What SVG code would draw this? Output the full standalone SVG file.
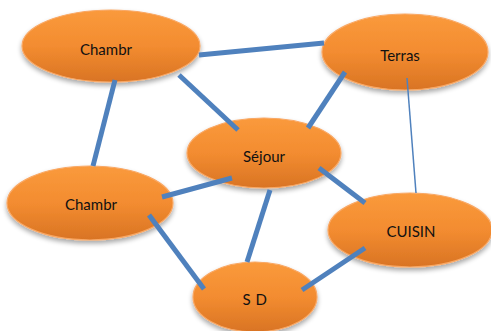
<svg xmlns="http://www.w3.org/2000/svg" width="491" height="331" viewBox="0 0 491 331">
  <defs>
    <linearGradient id="orangeFill" x1="0" y1="0" x2="0" y2="1">
      <stop offset="0" stop-color="#fa9a3c"/>
      <stop offset="0.5" stop-color="#f38c30"/>
      <stop offset="1" stop-color="#d97424"/>
    </linearGradient>
    <filter id="shadow" x="-20%" y="-20%" width="140%" height="160%">
      <feGaussianBlur in="SourceAlpha" stdDeviation="2.5"/>
      <feOffset dx="0" dy="3" result="blur"/>
      <feComponentTransfer><feFuncA type="linear" slope="0.35"/></feComponentTransfer>
      <feMerge><feMergeNode/><feMergeNode in="SourceGraphic"/></feMerge>
    </filter>
  </defs>
  <style>
    .node ellipse { fill: url(#orangeFill); stroke: #f9a865; stroke-width: 1.2; filter: url(#shadow); }
    .node text { font-family: "Lato", "Liberation Sans", sans-serif; font-size: 15px; fill: #111; text-anchor: middle; }
    .edge { stroke: #4f81bd; stroke-width: 5; fill: none; }
    .edge.thin { stroke-width: 1.5; }
  </style>
  <rect width="491" height="331" fill="#fff"/>

  <g id="chambr-top" class="node">
    <ellipse cx="111" cy="46" rx="89" ry="36"/>
    <text x="106" y="55">Chambr</text>
  </g>
  <g id="terras" class="node">
    <ellipse cx="405" cy="52" rx="83" ry="38"/>
    <text x="400" y="61">Terras</text>
  </g>
  <g id="sejour" class="node">
    <ellipse cx="264" cy="153" rx="77" ry="35"/>
    <text x="264" y="162">Séjour</text>
  </g>
  <g id="chambr-bottom" class="node">
    <ellipse cx="90" cy="203" rx="83" ry="37"/>
    <text x="91" y="210">Chambr</text>
  </g>
  <g id="cuisin" class="node">
    <ellipse cx="410" cy="230" rx="82" ry="37"/>
    <text x="411" y="237">CUISIN</text>
  </g>
  <g id="sd" class="node">
    <ellipse cx="255" cy="297" rx="62" ry="35"/>
    <text x="255" y="305" letter-spacing="0.5">S D</text>
  </g>

  <g id="connectors">
    <line class="edge" x1="199" y1="55" x2="324" y2="43"/>
    <line class="edge" x1="179" y1="75" x2="238" y2="130"/>
    <line class="edge" x1="115" y1="80" x2="93" y2="166"/>
    <line class="edge" x1="345" y1="72" x2="308" y2="128"/>
    <line class="edge thin" x1="407" y1="78" x2="416" y2="193"/>
    <line class="edge" x1="232" y1="178" x2="162" y2="197"/>
    <line class="edge" x1="319" y1="168" x2="365" y2="203"/>
    <line class="edge" x1="270" y1="190" x2="247" y2="262"/>
    <line class="edge" x1="149" y1="215" x2="204" y2="289"/>
    <line class="edge" x1="365" y1="248" x2="302" y2="290"/>
  </g>
</svg>
